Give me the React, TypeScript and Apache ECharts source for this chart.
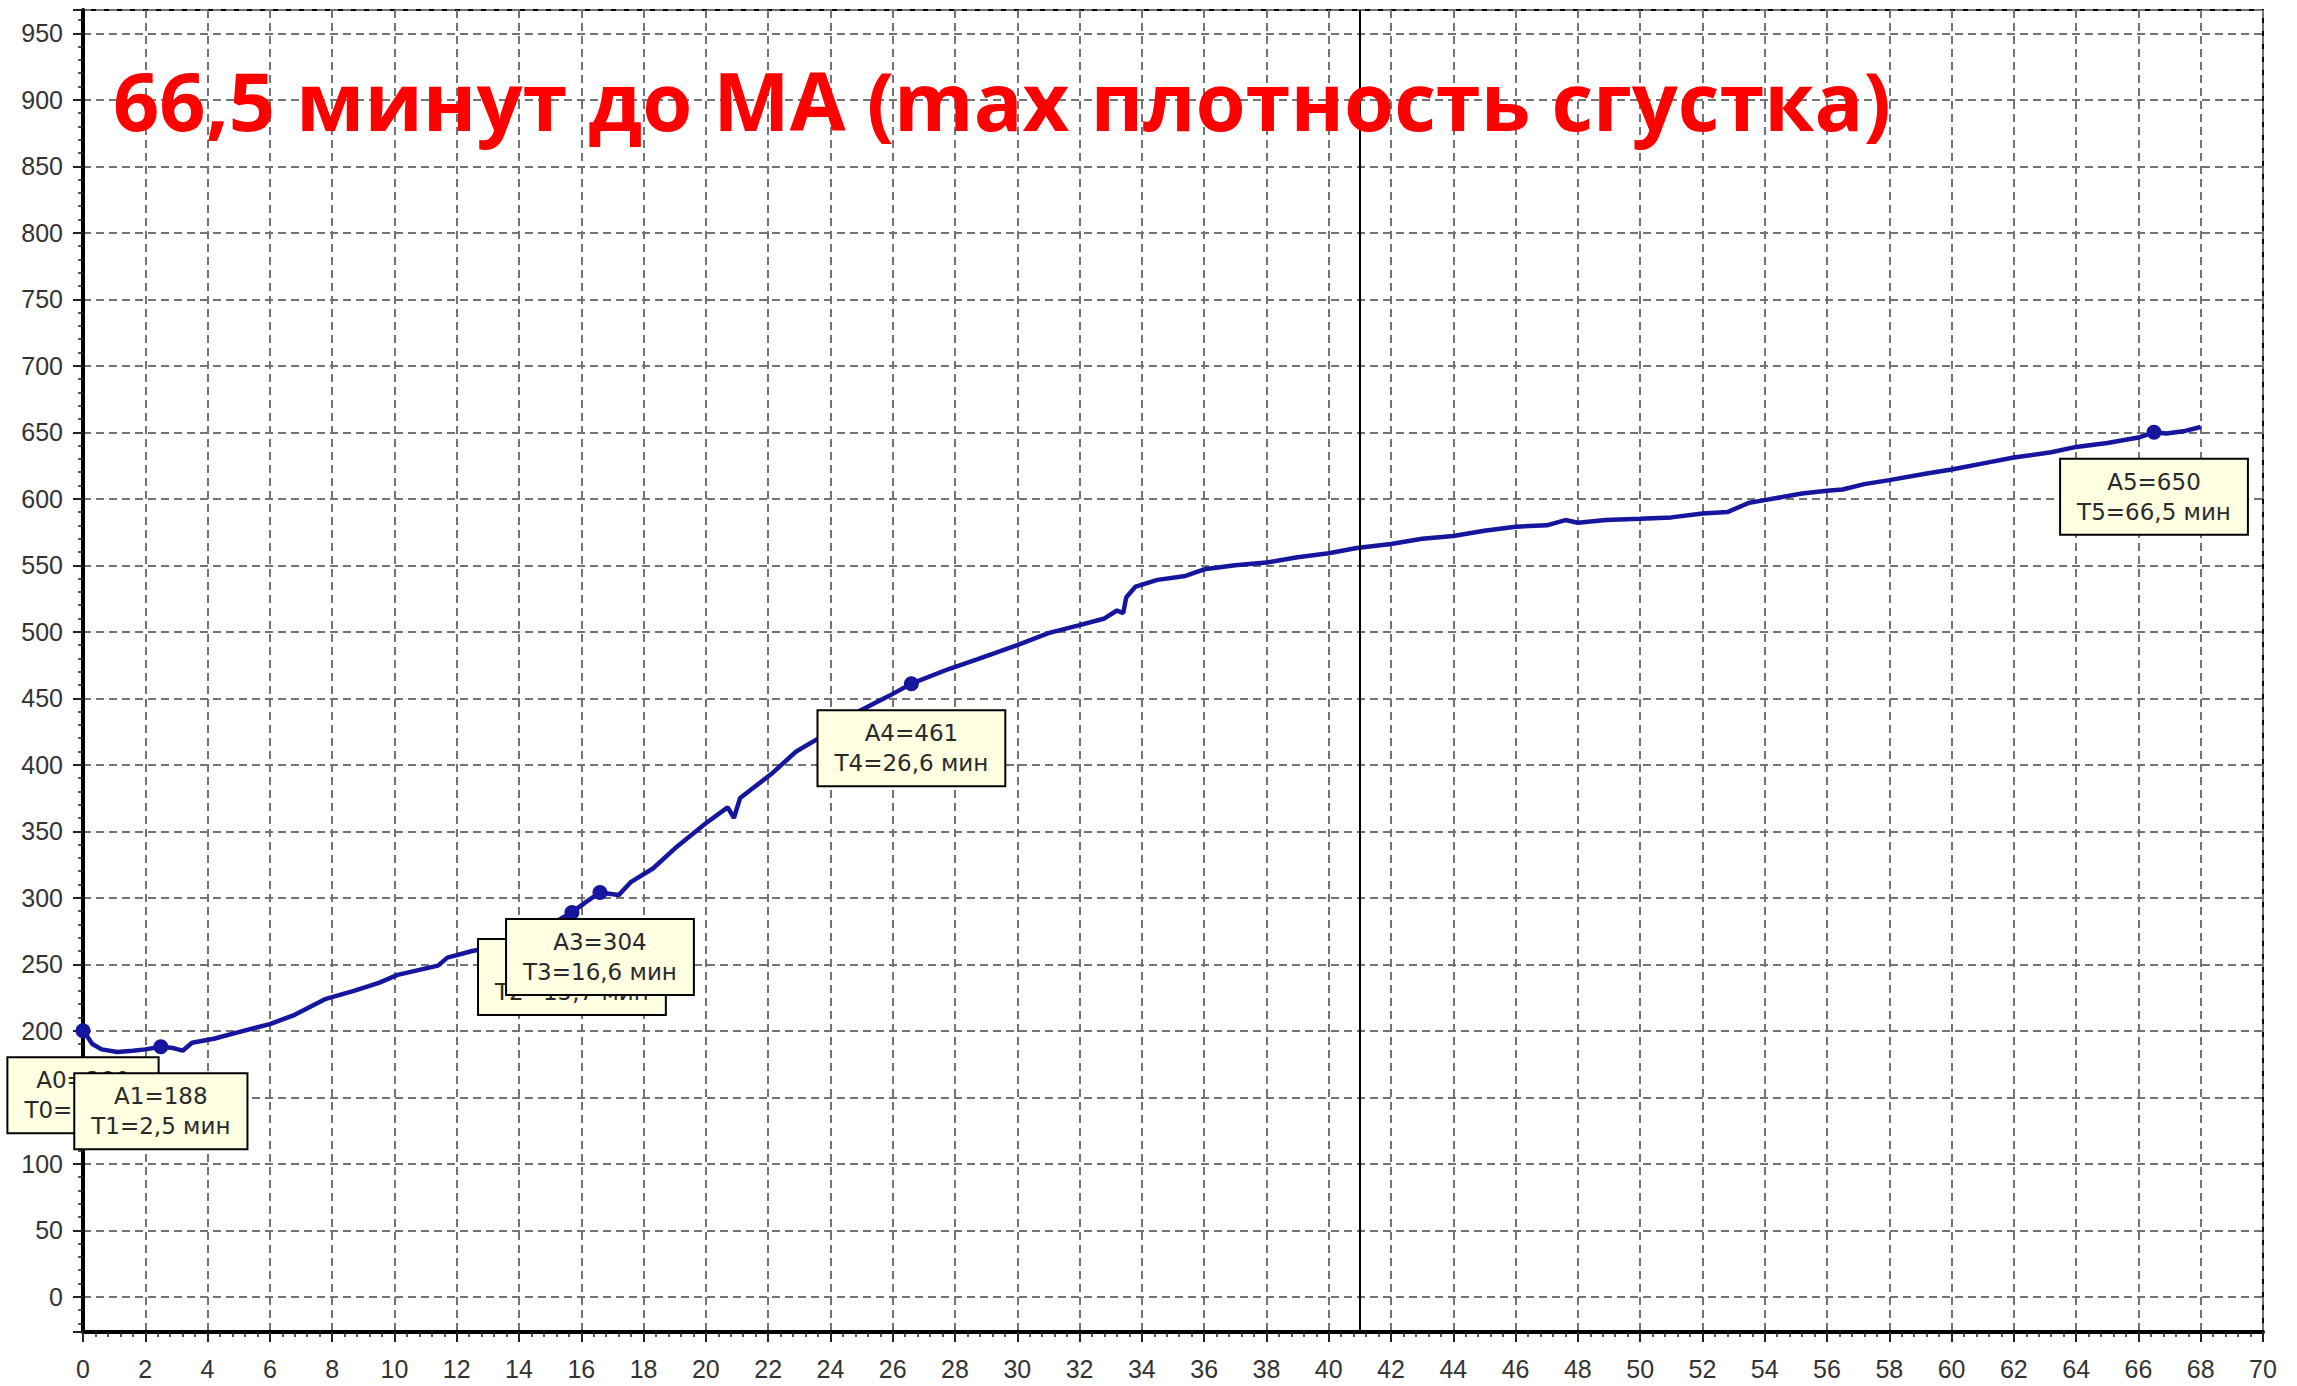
import React, { useEffect, useRef } from 'react';
import * as echarts from 'echarts';

// Clot-formation curve: time (minutes) and amplitude
const curveTimes = [
  0, 0.1, 0.3, 0.6, 1.1, 1.6, 2.0, 2.5, 2.9, 3.2, 3.5, 4.2, 5.0, 6.0, 6.8, 7.8, 8.7, 9.5,
  10.1, 11.4, 11.7, 12.5, 13.2, 14.0, 14.6, 15.1, 15.7, 16.1, 16.6, 17.2, 17.6, 18.3, 19.0,
  20.0, 20.7, 20.9, 21.1, 22.1, 22.9, 23.7, 24.9, 25.9, 26.6, 27.8, 28.8, 30.0, 31.0, 32.0,
  32.8, 33.2, 33.4, 33.5, 33.8, 34.5, 35.4, 36.0, 37.0, 38.0, 39.0, 40.0, 40.9, 42.0, 43.0,
  44.0, 45.0, 46.0, 47.0, 47.6, 48.0, 48.9, 50.0, 51.0, 52.0, 52.8, 53.5, 54.0, 55.2, 56.0,
  56.5, 57.2, 58.0, 59.2, 60.0, 61.1, 62.0, 63.2, 64.0, 65.0, 66.0, 66.5, 66.9, 67.5, 68.0,
];
const curveValues = [
  201, 197, 190, 186, 184, 185, 186, 188, 187, 185, 191, 194, 199, 205, 212, 224, 230, 236,
  242, 249, 255, 260, 263, 268, 273, 281, 289, 296, 304, 302, 312, 322, 337,
  356, 368, 360, 375, 393, 410, 421, 440, 452, 461, 472, 480, 490, 499, 505,
  510, 516, 514, 526, 534, 539, 542, 547, 550, 552, 556, 559, 563, 566, 570,
  572, 576, 579, 580, 584, 582, 584, 585, 586, 589, 590, 597, 599, 604, 606,
  607, 611, 614, 619, 622, 627, 631, 635, 639, 642, 646, 650, 649, 651, 654,
];

// Marked points A0..A5
const markerNames = ['0', '1', '2', '3', '4', '5'];
const markerTimes = [0, 2.5, 15.7, 16.6, 26.6, 66.5];
const markerValues = [200, 188, 289, 304, 461, 650];
const markerTimeLabels = ['0', '2,5', '15,7', '16,6', '26,6', '66,5'];

const cursorTime = 41;
const titleText = '66,5 минут до МА (max плотность сгустка)';

const xMin = 0;
const xMax = 70;
const xStep = 2;
const yMin = -26.5;
const yMax = 967.5;
const yStep = 50;

export default function App() {
  const ref = useRef<HTMLDivElement>(null);

  useEffect(() => {
    document.body.style.margin = '0';
    if (!ref.current) return;
    const chart = echarts.init(ref.current, undefined, { renderer: 'svg' });

    const lineData = curveTimes.map((t, i) => [t, curveValues[i]]);
    const markerData = markerTimes.map((t, i) => ({
      value: [t, markerValues[i]],
      label: {
        formatter: `A${markerNames[i]}=${markerValues[i]}\nT${markerNames[i]}=${markerTimeLabels[i]} мин`,
      },
    }));

    const gridLine = { color: '#737373', width: 2, type: [8, 5] as number[] };

    chart.setOption({
      animation: false,
      backgroundColor: '#ffffff',
      grid: {
        left: 83,
        top: 10,
        width: 2180,
        height: 1322,
        show: true,
        borderColor: '#000',
        borderWidth: 2,
        backgroundColor: '#ffffff',
        containLabel: false,
      },
      xAxis: {
        type: 'value',
        min: xMin,
        max: xMax,
        interval: xStep,
        axisLine: { show: true, onZero: false, lineStyle: { color: '#000', width: 4 } },
        axisTick: { show: true, inside: false, length: 10, lineStyle: { color: '#222', width: 2 } },
        minorTick: { show: true, splitNumber: 5, length: 5, lineStyle: { color: '#222', width: 1.5 } },
        axisLabel: {
          show: true,
          margin: 24,
          fontSize: 25,
          fontFamily: 'Liberation Sans, Arial, sans-serif',
          color: '#333',
        },
        splitLine: { show: true, lineStyle: gridLine },
      },
      yAxis: {
        type: 'value',
        min: yMin,
        max: yMax,
        splitNumber: 20,
        minInterval: yStep,
        maxInterval: yStep,
        axisLine: { show: true, onZero: false, lineStyle: { color: '#000', width: 4 } },
        axisTick: { show: true, inside: false, length: 10, lineStyle: { color: '#222', width: 2 } },
        minorTick: { show: true, splitNumber: 5, length: 5, lineStyle: { color: '#222', width: 1.5 } },
        axisLabel: {
          show: true,
          margin: 20,
          fontSize: 25,
          fontFamily: 'Liberation Sans, Arial, sans-serif',
          color: '#333',
          showMinLabel: false,
          showMaxLabel: false,
        },
        splitLine: { show: true, lineStyle: gridLine },
      },
      series: [
        {
          type: 'line',
          data: lineData,
          showSymbol: false,
          symbol: 'none',
          lineStyle: { color: '#15159e', width: 4.5 },
          z: 3,
          markLine: {
            silent: true,
            symbol: ['none', 'none'],
            label: { show: false },
            lineStyle: { color: '#000', width: 2, type: 'solid' },
            data: [{ xAxis: cursorTime }],
          },
        },
        {
          type: 'scatter',
          data: markerData,
          symbol: 'circle',
          symbolSize: 15,
          itemStyle: { color: '#15159e', opacity: 1 },
          z: 4,
          label: {
            show: true,
            position: 'bottom',
            distance: 20,
            opacity: 1,
            backgroundColor: '#ffffe1',
            borderColor: '#000',
            borderWidth: 2,
            padding: [7, 16],
            lineHeight: 30,
            fontSize: 23,
            fontFamily: 'DejaVu Sans, sans-serif',
            color: '#2a2a2a',
            align: 'center',
          },
          labelLayout: { hideOverlap: false },
        },
      ],
      graphic: [
        {
          type: 'text',
          x: 113,
          y: 99,
          z: 100,
          silent: true,
          style: {
            text: titleText,
            fontSize: 81,
            fontWeight: 'bold',
            fontFamily: 'Open Sans, sans-serif',
            fill: '#ff0000',
            align: 'left',
            verticalAlign: 'middle',
          },
        },
      ],
    });

    return () => {
      chart.dispose();
    };
  }, []);

  return <div ref={ref} style={{ width: 2297, height: 1386 }} />;
}
